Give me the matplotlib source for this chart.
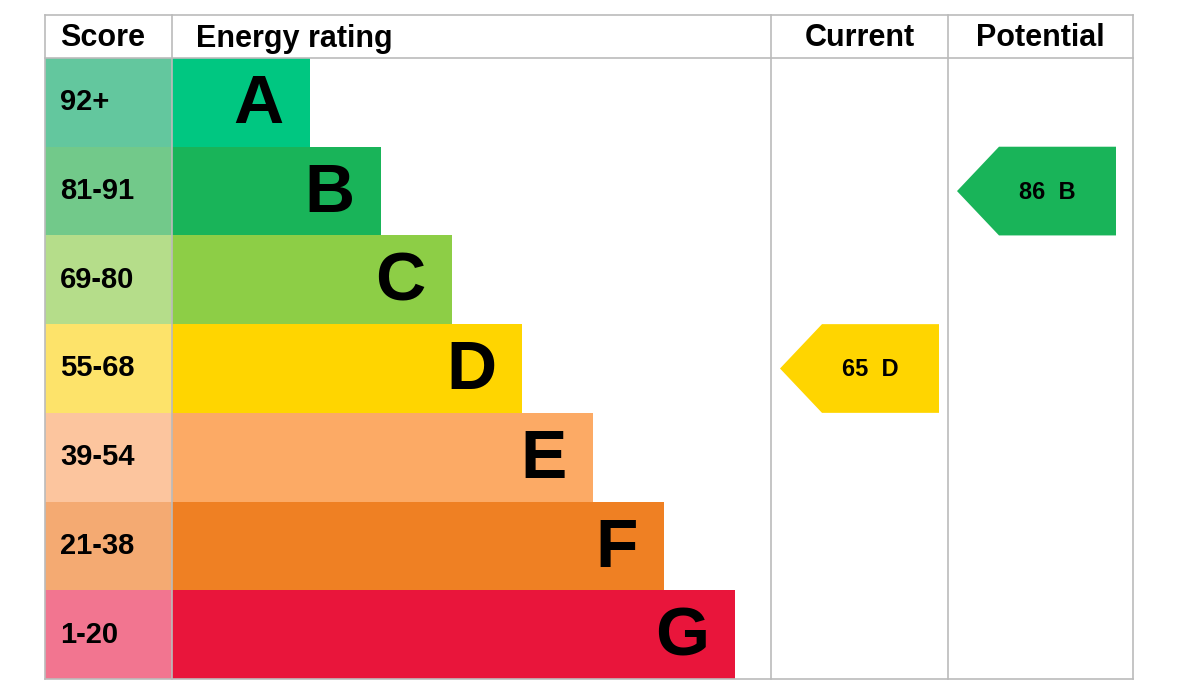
import matplotlib
matplotlib.use("Agg")
import matplotlib.pyplot as plt
from matplotlib.patches import Rectangle, Polygon

letters = ["A", "B", "C", "D", "E", "F", "G"]
ranges = ["92+", "81-91", "69-80", "55-68", "39-54", "21-38", "1-20"]
bar_colors = ["#00c781", "#19b459", "#8dce46", "#ffd500", "#fcaa65", "#ef8023", "#e9153b"]
score_colors = ["#63c79e", "#72c98a", "#b5dd8a", "#fde36a", "#fcc59e", "#f4aa72", "#f27590"]
current_value, current_letter = 65, "D"
potential_value, potential_letter = 86, "B"

W, H = 1179, 682
fig = plt.figure(figsize=(W / 100, H / 100), dpi=100)
ax = fig.add_axes([0, 0, 1, 1])
ax.set_xlim(0, W)
ax.set_ylim(H, 0)
ax.axis("off")
fam = ["Liberation Sans", "DejaVu Sans"]

L, R, top, hb, bot = 45, 1133, 15, 58, 679
c1, c2, c3 = 172, 771, 948
rh = (bot - hb) / 7
line = "#bbbbbb"

for i, (let, rg) in enumerate(zip(letters, ranges)):
    y0 = hb + i * rh
    ax.add_patch(Rectangle((L, y0), c1 - L, rh, color=score_colors[i], lw=0))
    xe = 310 + i * 70.8
    ax.add_patch(Rectangle((c1, y0), xe - c1, rh, color=bar_colors[i], lw=0))
    ax.text(60, y0 + rh / 2, rg, fontsize=21, fontweight="bold", family=fam, va="center", ha="left")
    ax.text(xe - 26, y0 + rh / 2 + 3, let, fontsize=50, fontweight="bold", family=fam, va="center", ha="right")

for x in (L, c1, c2, c3, R):
    ax.plot([x, x], [top, bot], color=line, lw=1.2)
for y in (top, hb, bot):
    ax.plot([L, R], [y, y], color=line, lw=1.2)

hy = (top + hb) / 2 + 2
ax.text(60, hy, "Score", fontsize=22, fontweight="bold", family=fam, va="center")
ax.text(196, hy, "Energy rating", fontsize=22, fontweight="bold", family=fam, va="center")
ax.text((c2 + c3) / 2, hy, "Current", fontsize=22, fontweight="bold", family=fam, va="center", ha="center")
ax.text((c3 + R) / 2, hy, "Potential", fontsize=22, fontweight="bold", family=fam, va="center", ha="center")

def arrow(x0, x1, value, letter):
    idx = letters.index(letter)
    y0 = hb + idx * rh
    y1 = y0 + rh
    pts = [(x0, (y0 + y1) / 2), (x0 + 42, y0), (x1, y0), (x1, y1), (x0 + 42, y1)]
    ax.add_patch(Polygon(pts, closed=True, color=bar_colors[idx], lw=0))
    ax.text(x0 + 62, (y0 + y1) / 2 + 1, f"{value}  {letter}", fontsize=17, fontweight="bold",
            family=fam, va="center", ha="left")

arrow(780, 939, current_value, current_letter)
arrow(957, 1116, potential_value, potential_letter)

fig.savefig("out.png", dpi=100)
